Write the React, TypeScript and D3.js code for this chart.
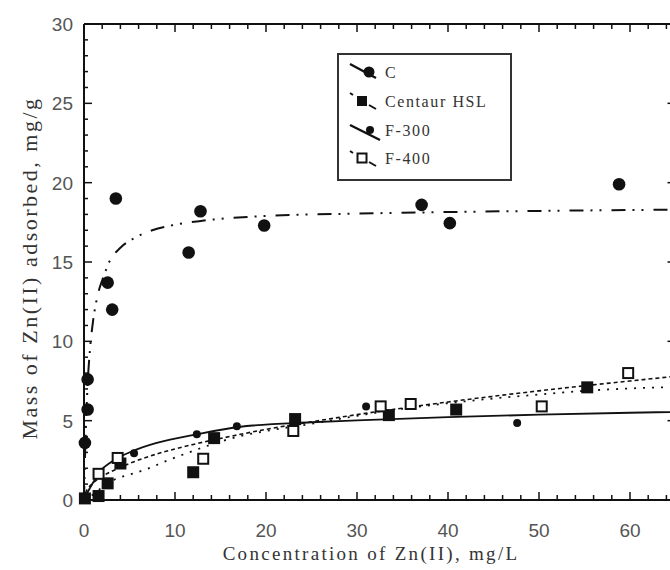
import React from "react";
import * as d3 from "d3";

// Measured adsorption points (concentration mg/L, mass adsorbed mg/g)
const cX = [0.1, 0.4, 0.4, 2.6, 3.1, 3.5, 11.5, 12.8, 19.8, 37.1, 40.2, 58.8];
const cY = [3.6, 5.7, 7.6, 13.7, 12.0, 19.0, 15.6, 18.2, 17.3, 18.6, 17.45, 19.9];

const hslX = [0.1, 1.6, 2.6, 4.0, 12.0, 14.3, 23.2, 33.5, 40.9, 55.3];
const hslY = [0.1, 0.25, 1.05, 2.3, 1.75, 3.9, 5.1, 5.35, 5.7, 7.1];

const f300X = [0.2, 5.5, 12.4, 16.8, 31.0, 47.6];
const f300Y = [0.2, 2.95, 4.15, 4.65, 5.9, 4.85];

const f400X = [1.6, 3.7, 13.1, 23.0, 32.6, 35.9, 50.3, 59.8];
const f400Y = [1.65, 2.65, 2.6, 4.35, 5.9, 6.05, 5.9, 8.0];

// Fitted isotherm curves
const cFitX = [0, 0.2, 0.4, 0.66, 1, 1.5, 2.1, 2.86, 4, 5.5, 7.5, 10, 13, 20, 30, 40, 50, 65];
const cFitY = [0, 4.5, 7.3, 9.5, 11.3, 12.9, 14.0, 15.1, 15.9, 16.5, 17.0, 17.35, 17.6, 17.9, 18.05, 18.15, 18.22, 18.3];

const hslFitX = [0, 0.25, 0.5, 1, 2, 3, 5, 8, 12, 16, 20, 25, 30, 35, 40, 45, 50, 55, 60, 65];
const hslFitY = [0, 0.55, 0.77, 1.07, 1.49, 1.8, 2.3, 2.9, 3.5, 4.0, 4.45, 4.93, 5.38, 5.79, 6.18, 6.54, 6.88, 7.2, 7.5, 7.8];

const f300FitX = [0, 0.5, 1, 1.75, 3, 5.4, 8, 12.5, 17, 25, 30, 40, 50, 60, 65];
const f300FitY = [0, 0.6, 1.1, 1.8, 2.4, 3.1, 3.6, 4.15, 4.6, 4.9, 5.02, 5.22, 5.38, 5.5, 5.55];

const f400FitX = [0, 1, 2, 3.2, 5, 6.9, 9, 11.3, 14, 17, 20, 25, 30, 35, 40, 45, 50, 55, 60, 65];
const f400FitY = [0, 0.35, 0.8, 1.25, 1.6, 1.95, 2.45, 2.95, 3.5, 4.0, 4.35, 4.8, 5.3, 5.75, 6.1, 6.4, 6.65, 6.88, 7.03, 7.12];

const xTicks = [0, 10, 20, 30, 40, 50, 60];
const yTicks = [0, 5, 10, 15, 20, 25, 30];
const legendLabels = ["C", "Centaur HSL", "F-300", "F-400"];

const W = 670;
const H = 570;
const left = 84;
const top = 24;
const bottom = 500;

export default function App() {
  const x = d3.scaleLinear().domain([0, 65]).range([left, left + 65 * 9.1]);
  const y = d3.scaleLinear().domain([0, 30]).range([bottom, top]);
  const right = x(65);

  const line = d3
    .line<[number, number]>()
    .x((d) => x(d[0]))
    .y((d) => y(d[1]))
    .curve(d3.curveMonotoneX);
  const zip = (a: number[], b: number[]) => a.map((v, i) => [v, b[i]] as [number, number]);

  const xMinor = d3.range(0, 66, 2);
  const yMinor = d3.range(0, 31, 1);
  const ink = "#111";

  const sq = (cx: number, cy: number, s: number, fill: boolean, key: string) => (
    <rect
      key={key}
      x={cx - s / 2}
      y={cy - s / 2}
      width={s}
      height={s}
      fill={fill ? ink : "#fff"}
      stroke={ink}
      strokeWidth={fill ? 0 : 2}
    />
  );

  const lx = 348;
  const ly = [72, 101, 130, 158];

  return (
    <svg width={W} height={H} style={{ display: "block", position: "absolute", left: 0, top: 0, background: "#fff" }}>
      <defs>
        <clipPath id="plot">
          <rect x={left} y={top} width={right - left} height={bottom - top} />
        </clipPath>
      </defs>

      {/* fitted curves */}
      <g clipPath="url(#plot)" fill="none" stroke={ink}>
        <path d={line(zip(cFitX, cFitY)) || ""} strokeWidth={2} strokeDasharray="14 7 2 7 2 10" />
        <path d={line(zip(hslFitX, hslFitY)) || ""} strokeWidth={1.6} strokeDasharray="4 3" />
        <path d={line(zip(f300FitX, f300FitY)) || ""} strokeWidth={1.8} />
        <path d={line(zip(f400FitX, f400FitY)) || ""} strokeWidth={1.8} strokeDasharray="2 7" />
      </g>

      {/* data points */}
      <g>
        {cX.map((v, i) => (
          <circle key={"c" + i} cx={x(v)} cy={y(cY[i])} r={6.3} fill={ink} />
        ))}
        {f300X.map((v, i) => (
          <circle key={"f3" + i} cx={x(v)} cy={y(f300Y[i])} r={4} fill={ink} />
        ))}
        {hslX.map((v, i) => sq(x(v), y(hslY[i]), 12, true, "h" + i))}
        {f400X.map((v, i) => sq(x(v), y(f400Y[i]), 10, false, "f4" + i))}
      </g>

      {/* frame */}
      <g stroke={ink} fill="none">
        <line x1={left} y1={bottom} x2={right} y2={bottom} strokeWidth={2} />
        <line x1={left} y1={top} x2={right} y2={top} strokeWidth={2} />
        <line x1={left} y1={top} x2={left} y2={bottom} strokeWidth={2} />
        <line x1={right} y1={top} x2={right} y2={bottom} strokeWidth={2} />
        {xMinor.map((v) => {
          const major = v % 10 === 0;
          const len = major ? 8 : 5;
          return (
            <g key={"xt" + v} strokeWidth={1.5}>
              <line x1={x(v)} x2={x(v)} y1={bottom} y2={bottom - len} />
              <line x1={x(v)} x2={x(v)} y1={top} y2={top + len} />
            </g>
          );
        })}
        {yMinor.map((v) => {
          const major = v % 5 === 0;
          const len = major ? 8 : 4;
          return (
            <g key={"yt" + v} strokeWidth={1.5}>
              <line x1={left} x2={left + len} y1={y(v)} y2={y(v)} />
              <line x1={right} x2={right - len} y1={y(v)} y2={y(v)} />
            </g>
          );
        })}
      </g>

      {/* tick labels */}
      <g fontFamily="'Liberation Sans', Arial, sans-serif" fontSize={19} fill="#555">
        {xTicks.map((v) => (
          <text key={"xl" + v} x={x(v)} y={537} textAnchor="middle">
            {v}
          </text>
        ))}
        {yTicks.map((v) => (
          <text key={"yl" + v} x={73} y={y(v) + 7} textAnchor="end">
            {v}
          </text>
        ))}
      </g>

      {/* axis titles */}
      <text
        x={371}
        y={560}
        textAnchor="middle"
        fontFamily="'Liberation Serif', 'Times New Roman', serif"
        fontSize={19}
        letterSpacing={2.3}
        fill="#333"
      >
        Concentration of Zn(II), mg/L
      </text>
      <text
        transform={`translate(37,268) rotate(-90)`}
        textAnchor="middle"
        fontFamily="'Liberation Serif', 'Times New Roman', serif"
        fontSize={22}
        letterSpacing={2.5}
        fill="#333"
      >
        Mass of Zn(II) adsorbed, mg/g
      </text>

      {/* legend */}
      <g>
        <rect x={338} y={54} width={173} height={126} fill="#fff" stroke="#333" strokeWidth={2} />
        <g stroke={ink} strokeWidth={2} fill="none">
          <line x1={lx + 2} y1={ly[0] - 8} x2={lx + 28} y2={ly[0] + 6} strokeWidth={2.4} />
          <line x1={lx + 2} y1={ly[1] - 8} x2={lx + 5} y2={ly[1] - 6} />
          <line x1={lx + 21} y1={ly[1] + 4} x2={lx + 28} y2={ly[1] + 8} />
          <line x1={lx + 2} y1={ly[2] - 5} x2={lx + 32} y2={ly[2] + 10} strokeWidth={2.4} />
          <line x1={lx + 2} y1={ly[3] - 7} x2={lx + 5} y2={ly[3] - 5} />
          <line x1={lx + 21} y1={ly[3] + 4} x2={lx + 28} y2={ly[3] + 8} />
        </g>
        <circle cx={lx + 21} cy={ly[0]} r={5.5} fill={ink} />
        {sq(lx + 14, ly[1], 10, true, "lh")}
        <circle cx={lx + 22} cy={ly[2]} r={4} fill={ink} />
        {sq(lx + 14, ly[3], 9, false, "lf4")}
        <g fontFamily="'Liberation Serif', 'Times New Roman', serif" fontSize={16} letterSpacing={1.6} fill="#333">
          {legendLabels.map((t, i) => (
            <text key={t} x={385} y={ly[i] + 6}>
              {t}
            </text>
          ))}
        </g>
      </g>
    </svg>
  );
}
